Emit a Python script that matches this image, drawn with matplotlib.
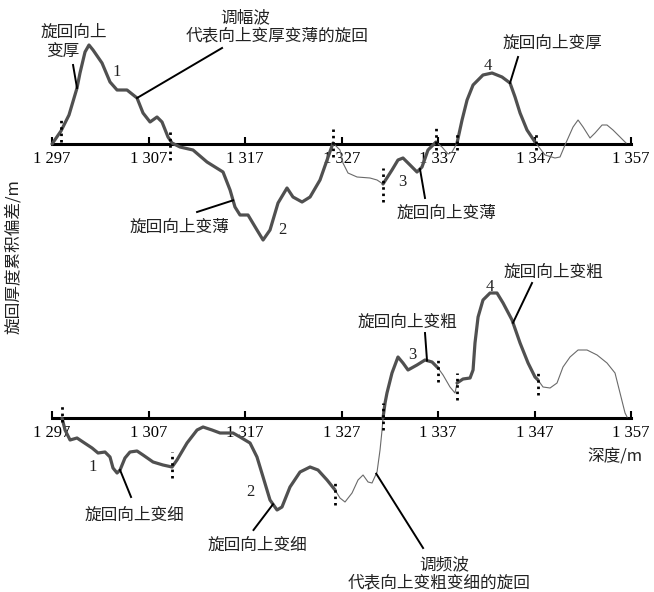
import numpy as np
import matplotlib.pyplot as plt

plt.rcParams['font.family'] = ['Noto Sans CJK SC', 'DejaVu Sans']

ticks = [1297, 1307, 1317, 1327, 1337, 1347, 1357]
tick_labels = ['1 297', '1 307', '1 317', '1 327', '1 337', '1 347', '1 357']

# 上图：调幅波（旋回厚度累积偏差）
top_depth = [1297.0, 1297.93, 1298.76, 1299.59, 1299.90, 1300.42, 1300.83, 1301.25, 1302.18,
             1303.01, 1303.74, 1304.77, 1305.81, 1306.43, 1307.16, 1307.88, 1308.40, 1309.02,
             1309.44, 1310.26, 1311.61, 1313.06, 1314.72, 1315.45, 1315.96, 1316.48, 1317.31,
             1318.24, 1318.87, 1319.59, 1320.42, 1321.35, 1321.97, 1322.91, 1323.74, 1324.77,
             1325.50, 1326.12, 1326.84, 1327.15, 1327.67, 1328.61, 1329.95, 1330.68, 1331.30,
             1332.23, 1332.85, 1333.37, 1334.10, 1334.82, 1335.34, 1335.96, 1336.79, 1337.41,
             1338.04, 1338.45, 1338.97, 1339.49, 1340.01, 1340.63, 1341.66, 1342.60, 1343.63,
             1344.46, 1344.98, 1345.50, 1346.22, 1347.05, 1348.09, 1349.12, 1349.64, 1350.16,
             1350.99, 1351.51, 1352.03, 1352.75, 1353.27, 1354.00, 1354.51, 1355.13, 1355.86,
             1356.48]
top_dev = [0.0, 1.3, 2.9, 5.6, 7.1, 9.2, 9.9, 9.4, 8.1,
           6.2, 5.4, 5.4, 4.6, 3.1, 2.2, 2.7, 2.2, 0.7,
           0.1, -0.3, -0.6, -1.8, -2.8, -4.6, -6.3, -7.1, -7.1,
           -8.6, -9.6, -8.6, -5.9, -4.4, -5.3, -5.8, -5.3, -3.6,
           -1.6, 0.1, -0.6, -1.9, -2.9, -3.3, -3.4, -3.6, -4.0,
           -2.6, -1.6, -1.4, -2.1, -2.8, -2.3, -0.6, 0.2, -0.3,
           -1.0, -0.8, 0.1, 2.4, 4.4, 5.9, 6.9, 7.1, 6.7,
           6.1, 4.7, 3.1, 1.4, 0.2, -1.1, -1.4, -1.3, -0.1,
           1.7, 2.4, 1.7, 0.6, 1.1, 1.9, 1.9, 1.4, 0.7,
           0.1]
top_breaks = [1326.12, 1331.30, 1336.79, 1338.97, 1347.05]
top_mark_depth = [1297.93, 1309.2, 1326.12, 1331.30, 1336.79, 1338.97, 1347.15]
top_mark_lo = [0.2, -1.6, -1.3, -5.8, -0.6, -0.6, -0.6]
top_mark_hi = [2.4, 1.4, 1.5, -2.4, 1.6, 1.2, 1.2]

# 下图：调频波
bot_depth = [1298.04, 1298.35, 1298.87, 1299.59, 1300.21, 1301.15, 1301.77, 1302.49, 1303.01,
             1303.32, 1303.74, 1304.05, 1304.56, 1305.08, 1305.81, 1306.43, 1307.47, 1308.50,
             1309.44, 1309.95, 1310.99, 1312.03, 1312.65, 1313.58, 1314.41, 1315.76, 1316.48,
             1317.52, 1318.24, 1318.87, 1319.59, 1320.32, 1320.83, 1321.66, 1322.70, 1323.74,
             1324.56, 1325.50, 1326.33, 1326.84, 1327.36, 1328.09, 1328.71, 1329.23, 1329.75,
             1330.16, 1330.68, 1330.99, 1331.20, 1331.30, 1331.51, 1331.71, 1332.23, 1332.85,
             1333.37, 1333.89, 1334.82, 1335.65, 1336.38, 1337.00, 1337.52, 1338.24, 1338.76,
             1338.97, 1339.59, 1340.32, 1340.63, 1340.83, 1341.15, 1341.66, 1342.39, 1343.11,
             1343.74, 1344.67, 1345.50, 1346.33, 1347.05, 1347.36, 1347.88, 1348.61, 1349.33,
             1349.95, 1350.68, 1351.51, 1352.44, 1353.48, 1354.51, 1355.34, 1355.86, 1356.38,
             1356.59]
bot_dev = [0.0, -1.2, -2.2, -2.0, -2.4, -3.0, -3.5, -3.4, -3.9,
           -5.0, -5.5, -5.2, -4.0, -3.4, -3.3, -3.7, -4.4, -4.7,
           -4.9, -4.2, -2.5, -1.2, -0.9, -1.2, -1.5, -1.5, -1.9,
           -2.5, -3.9, -5.9, -8.2, -9.2, -8.9, -6.9, -5.4, -4.9,
           -5.2, -6.2, -7.2, -8.0, -8.4, -7.5, -6.2, -5.7, -6.4,
           -6.5, -5.4, -3.2, -1.2, 0.0, 1.5, 2.5, 4.5, 6.1,
           5.5, 4.8, 5.3, 5.8, 5.6, 5.0, 4.3, 3.1, 2.5,
           3.5, 3.9, 4.0, 4.8, 7.5, 10.1, 11.8, 12.5, 12.5,
           11.5, 9.8, 7.5, 5.5, 4.1, 3.8, 3.1, 3.0, 3.5,
           5.1, 6.1, 6.8, 6.8, 6.3, 5.5, 4.5, 2.5, 0.5,
           0.1]
bot_breaks = [1326.33, 1331.30, 1337.00, 1338.97, 1347.36]
bot_mark_depth = [1298.04, 1309.44, 1326.33, 1331.30, 1337.00, 1338.97, 1347.36]
bot_mark_lo = [-0.4, -6.0, -8.7, -1.2, 3.6, 1.8, 2.3]
bot_mark_hi = [1.3, -3.4, -6.2, 1.5, 6.1, 4.5, 4.8]

THICK = dict(color='#505050', lw=2.3, solid_joinstyle='round', solid_capstyle='round')
THIN = dict(color='#6a6a6a', lw=0.8, solid_joinstyle='round')
SERIF = ['Liberation Serif', 'DejaVu Serif']

fig = plt.figure(figsize=(6.54, 5.92), dpi=100)
ax_top = fig.add_axes([0, 1 - 260 / 592, 1, 260 / 592])
ax_bot = fig.add_axes([0, 0, 1, 332 / 592])
ax_top.set_ylim(-11.6, 14.4)
ax_bot.set_ylim(-17.4, 15.8)


def draw_curve(ax, depth, dev, breaks):
    depth = np.asarray(depth)
    dev = np.asarray(dev)
    edges = [depth[0]] + list(breaks) + [depth[-1]]
    for i in range(len(edges) - 1):
        m = (depth >= edges[i] - 1e-6) & (depth <= edges[i + 1] + 1e-6)
        style = THICK if i % 2 == 0 else THIN
        ax.plot(depth[m], dev[m], **style, zorder=3)


def setup_axis(ax):
    ax.set_xlim(1291.61, 1359.38)
    for s in ['top', 'right', 'left']:
        ax.spines[s].set_visible(False)
    ax.spines['bottom'].set_position(('data', 0))
    ax.spines['bottom'].set_bounds(1297, 1357)
    ax.spines['bottom'].set_linewidth(2.2)
    ax.set_yticks([])
    ax.set_xticks(ticks)
    ax.set_xticklabels(tick_labels, fontfamily=SERIF, fontsize=12)
    ax.tick_params(axis='x', direction='in', length=5, width=1.5, pad=5)
    ax.patch.set_visible(False)


def marks(ax, depth, lo, hi):
    for d, a, b in zip(depth, lo, hi):
        ax.plot([d, d], [a, b], color='k', lw=2.0, ls=(0, (0.9, 1.4)), zorder=4)


def leader(ax, depth, dev, d_curve, x_end, y_end):
    y_curve = np.interp(d_curve, depth, dev)
    ax.plot([d_curve, x_end], [y_curve, y_end], color='k', lw=1.4, zorder=5)


for ax in (ax_top, ax_bot):
    setup_axis(ax)

draw_curve(ax_top, top_depth, top_dev, top_breaks)
draw_curve(ax_bot, bot_depth, bot_dev, bot_breaks)
marks(ax_top, top_mark_depth, top_mark_lo, top_mark_hi)
marks(ax_bot, bot_mark_depth, bot_mark_lo, bot_mark_hi)

cjk = dict(fontsize=12, color='#222222', ha='center', va='center')
num = dict(fontsize=12, color='#222222', ha='center', va='center', fontfamily=SERIF)

# 上图标注
ax_top.text(1299.28, 11.2, '旋回向上', **cjk)
ax_top.text(1298.14, 9.2, '变厚', **cjk)
leader(ax_top, top_depth, top_dev, 1299.59, 1299.18, 7.9)
ax_top.text(1303.74, 7.2, '1', **num)
ax_top.text(1317.0, 12.6, '调幅波', **cjk)
ax_top.text(1320.32, 10.8, '代表向上变厚变薄的旋回', **cjk)
leader(ax_top, top_depth, top_dev, 1305.81, 1314.62, 9.6)
ax_top.text(1310.16, -8.3, '旋回向上变薄', **cjk)
leader(ax_top, top_depth, top_dev, 1315.76, 1312.03, -6.8)
ax_top.text(1320.83, -8.6, '2', **num)
ax_top.text(1333.27, -3.8, '3', **num)
ax_top.text(1337.83, -6.9, '旋回向上变薄', **cjk)
leader(ax_top, top_depth, top_dev, 1335.13, 1335.65, -5.4)
ax_top.text(1342.18, 7.8, '4', **num)
ax_top.text(1348.81, 10.1, '旋回向上变厚', **cjk)
leader(ax_top, top_depth, top_dev, 1344.46, 1345.29, 8.7)

# 下图标注
ax_bot.text(1301.25, -4.9, '1', **num)
ax_bot.text(1305.57, -9.7, '旋回向上变细', **cjk)
leader(ax_bot, bot_depth, bot_dev, 1304.05, 1305.19, -7.9)
ax_bot.text(1317.52, -7.4, '2', **num)
ax_bot.text(1318.33, -12.7, '旋回向上变细', **cjk)
leader(ax_bot, bot_depth, bot_dev, 1319.9, 1317.88, -11.2)
ax_bot.text(1337.66, -14.7, '调频波', **cjk)
ax_bot.text(1337.1, -16.5, '代表向上变粗变细的旋回', **cjk)
leader(ax_bot, bot_depth, bot_dev, 1330.6, 1335.45, -13.0)
ax_bot.text(1334.31, 6.3, '3', **num)
ax_bot.text(1333.79, 9.6, '旋回向上变粗', **cjk)
leader(ax_bot, bot_depth, bot_dev, 1335.86, 1335.65, 8.5)
ax_bot.text(1342.39, 13.1, '4', **num)
ax_bot.text(1348.92, 14.6, '旋回向上变粗', **cjk)
leader(ax_bot, bot_depth, bot_dev, 1344.77, 1346.74, 13.5)
ax_bot.text(1355.34, -3.9, '深度/m', **cjk)

fig.text(14 / 654, 1 - 257 / 592, '旋回厚度累积偏差/m', rotation=90,
         ha='center', va='center', fontsize=12, color='#222222')

fig.savefig('out.png', dpi=100)
